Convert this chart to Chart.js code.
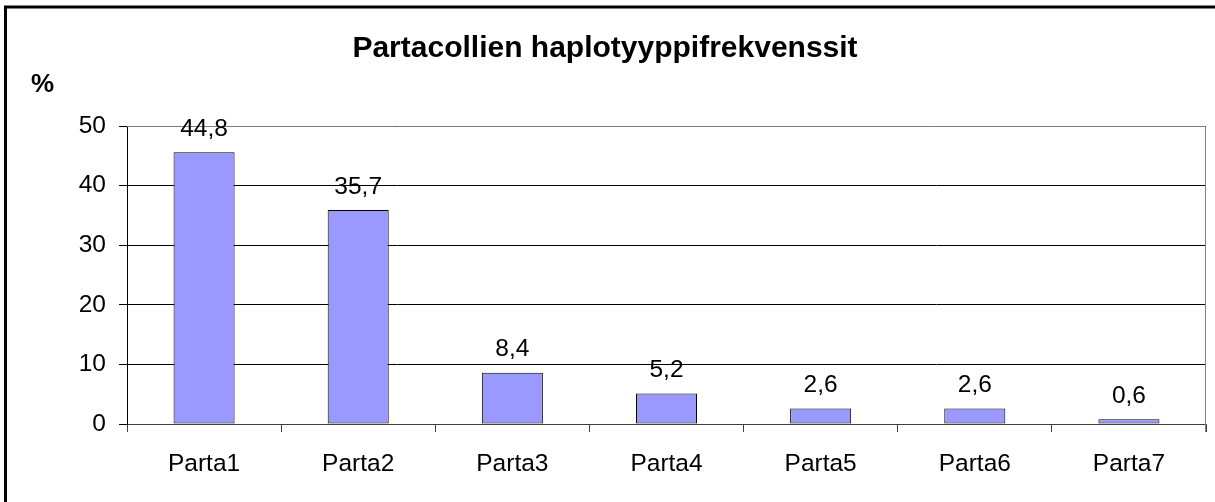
<!DOCTYPE html>
<html>
<head>
<meta charset="utf-8">
<script src="https://cdn.jsdelivr.net/npm/chart.js@4/dist/chart.umd.min.js"></script>
<style>
  html, body { margin: 0; padding: 0; background: #ffffff; }
  #wrap { width: 1215px; height: 502px; position: relative; }
</style>
</head>
<body>
<div id="wrap"><canvas id="c" width="1215" height="502"></canvas></div>
<script>
const categories = ['Parta1', 'Parta2', 'Parta3', 'Parta4', 'Parta5', 'Parta6', 'Parta7'];
const barValues = [45.6, 35.9, 8.6, 5.1, 2.6, 2.6, 0.8];
const valueLabels = ['44,8', '35,7', '8,4', '5,2', '2,6', '2,6', '0,6'];
const yTicks = [0, 10, 20, 30, 40, 50];
const chartTitle = 'Partacollien haplotyyppifrekvenssit';
const yUnit = '%';

const FONT = '"Liberation Sans", Arial, sans-serif';

const decor = {
  id: 'decor',
  beforeDatasetsDraw(chart) {
    const ctx = chart.ctx, a = chart.chartArea;
    ctx.save();
    ctx.strokeStyle = '#808080';
    ctx.lineWidth = 1;
    ctx.beginPath();
    ctx.moveTo(a.left, a.top + 0.5);
    ctx.lineTo(a.right - 0.5, a.top + 0.5);
    ctx.lineTo(a.right - 0.5, a.bottom + 8);
    ctx.stroke();
    ctx.restore();
  },
  afterDatasetsDraw(chart) {
    const ctx = chart.ctx;
    ctx.save();
    ctx.fillStyle = '#000';
    ctx.font = '24.5px ' + FONT;
    ctx.textAlign = 'center';
    ctx.textBaseline = 'alphabetic';
    chart.getDatasetMeta(0).data.forEach((bar, i) => {
      ctx.fillText(valueLabels[i], bar.x, bar.y - 16.5);
    });
    ctx.restore();
  },
  afterDraw(chart) {
    const ctx = chart.ctx;
    ctx.save();
    ctx.fillStyle = '#000';
    ctx.font = 'bold 30px ' + FONT;
    ctx.textAlign = 'center';
    ctx.textBaseline = 'alphabetic';
    ctx.fillText(chartTitle, 605, 57);
    ctx.font = 'bold 26px ' + FONT;
    ctx.textAlign = 'left';
    ctx.fillText(yUnit, 31, 92);
    ctx.strokeStyle = '#000';
    ctx.lineWidth = 3;
    ctx.strokeRect(5.5, 7, 1400, 700);
    ctx.restore();
  }
};

new Chart(document.getElementById('c'), {
  type: 'bar',
  data: {
    labels: categories,
    datasets: [{
      data: barValues,
      backgroundColor: '#9999FF',
      borderColor: '#000000',
      borderWidth: 1,
      borderSkipped: false,
      categoryPercentage: 1.0,
      barPercentage: 0.396
    }]
  },
  options: {
    responsive: false,
    animation: false,
    devicePixelRatio: 1,
    layout: { padding: { top: 126, right: 9, left: 0, bottom: 0 } },
    plugins: { legend: { display: false }, title: { display: false }, tooltip: { enabled: false } },
    scales: {
      x: {
        offset: true,
        grid: { display: true, drawOnChartArea: false, drawTicks: true, tickLength: 8, color: '#404040', offset: true },
        border: { display: true, color: '#404040', width: 1 },
        ticks: { color: '#000', font: { size: 24.5, family: FONT }, padding: 18, maxRotation: 0, autoSkip: false },
        afterFit(scale) { scale.height = 78; }
      },
      y: {
        min: 0, max: 50,
        afterBuildTicks(scale) { scale.ticks = yTicks.map(v => ({ value: v })); },
        grid: { color: '#000000', lineWidth: 1, drawTicks: true, tickLength: 8 },
        border: { display: true, color: '#000000', width: 1 },
        ticks: { color: '#000', font: { size: 24.5, family: FONT }, padding: 13 },
        afterFit(scale) { scale.width = 127; }
      }
    }
  },
  plugins: [decor]
});
</script>
</body>
</html>
